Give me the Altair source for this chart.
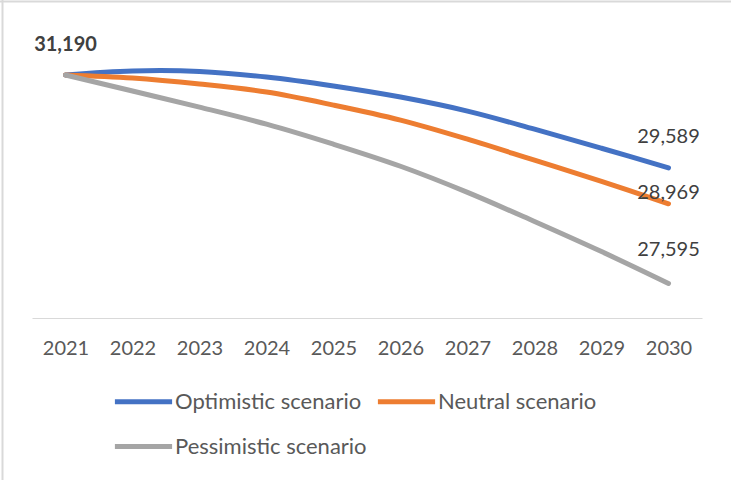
import altair as alt
import pandas as pd

# Projected values per scenario, 2021-2030
years = ["2021", "2022", "2023", "2024", "2025", "2026", "2027", "2028", "2029", "2030"]
series_names = ["Optimistic scenario", "Neutral scenario", "Pessimistic scenario"]
optimistic = [31190, 31259, 31251, 31155, 31000, 30809, 30567, 30256, 29927, 29589]
neutral = [31190, 31138, 31034, 30896, 30671, 30412, 30083, 29720, 29356, 28969]
pessimistic = [31190, 30913, 30636, 30342, 29996, 29616, 29166, 28664, 28145, 27595]
series_colors = ["#4472C4", "#ED7D31", "#A5A5A5"]

rows = []
for name, vals in zip(series_names, [optimistic, neutral, pessimistic]):
    for yr, v in zip(years, vals):
        rows.append({"year": yr, "series": name, "value": v})
df = pd.DataFrame(rows)

FONT = "Lato"
TEXT_DARK = "#404040"
TEXT_GREY = "#595959"
FRAME = "#D9D9D9"

x_enc = alt.X(
    "year:O",
    sort=years,
    scale=alt.Scale(type="point", padding=0.5),
    axis=alt.Axis(
        title=None,
        labelAngle=0,
        ticks=False,
        domainColor=FRAME,
        domainWidth=1,
        labelFont=FONT,
        labelFontSize=20,
        labelColor=TEXT_GREY,
        labelPadding=20,
    ),
)
y_enc = alt.Y(
    "value:Q",
    scale=alt.Scale(domain=[27000, 32000], zero=False, nice=False),
    axis=None,
)

lines = alt.Chart(df).mark_line(
    strokeWidth=5, interpolate="catmull-rom", strokeCap="round", strokeJoin="round"
).encode(
    x=x_enc,
    y=y_enc,
    color=alt.Color(
        "series:N",
        sort=series_names,
        scale=alt.Scale(domain=series_names, range=series_colors),
        legend=alt.Legend(
            title=None,
            orient="none",
            legendX=87,
            legendY=349,
            direction="horizontal",
            columns=2,
            # long horizontal stroke drawn wider than its layout box
            symbolType="M-1.3,0H1.3",
            symbolSize=1936,
            symbolStrokeWidth=5,
            labelFont=FONT,
            labelFontSize=22,
            labelColor=TEXT_GREY,
            labelOffset=7,
            labelLimit=400,
            columnPadding=0,
            rowPadding=9,
            padding=0,
        ),
    ),
    order=alt.Order("year:O"),
)

base_text = dict(font=FONT, fontSize=20, color=TEXT_DARK, align="center")

start_label = alt.Chart(df[(df.year == "2021") & (df.series == series_names[0])]).mark_text(
    dy=-30, fontWeight="bold", **base_text
).encode(x=x_enc, y=y_enc, text=alt.Text("value:Q", format=",.0f"))

end_layers = []
for name, offset in zip(series_names, [-31, -11, -33]):
    end_layers.append(
        alt.Chart(df[(df.year == "2030") & (df.series == name)]).mark_text(
            dy=offset, **base_text
        ).encode(x=x_enc, y=y_enc, text=alt.Text("value:Q", format=",.0f"))
    )

# light chart frame along the top and left edges
frame_top = alt.Chart(df.head(1)).mark_rule(color=FRAME, strokeWidth=2).encode(
    x=alt.value(-32), x2=alt.value(700), y=alt.value(-26.5)
)
frame_left = alt.Chart(df.head(1)).mark_rule(color=FRAME, strokeWidth=2).encode(
    x=alt.value(-29.5), y=alt.value(-28), y2=alt.value(452)
)

chart = alt.layer(frame_top, frame_left, lines, start_label, *end_layers).properties(
    width=670,
    height=290,
    autosize=alt.AutoSizeParams(type="none"),
    padding={"left": 32, "top": 28, "right": 29, "bottom": 162},
    background="white",
).configure_view(stroke=None)

chart.save("out.html", embed_options={"renderer": "svg", "actions": False})
